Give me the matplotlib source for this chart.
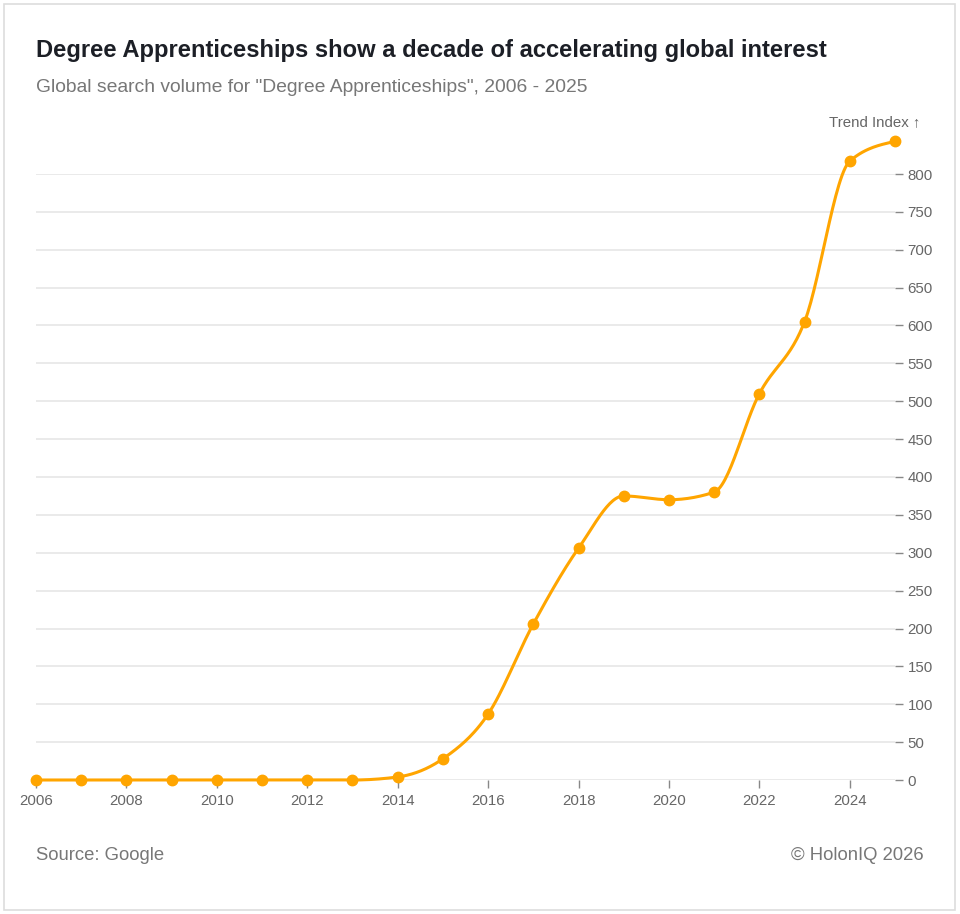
import numpy as np
import matplotlib
matplotlib.use("Agg")
import matplotlib.pyplot as plt
from matplotlib.patches import Rectangle

plt.rcParams['font.family'] = ['Liberation Sans', 'DejaVu Sans']

years = [2006, 2007, 2008, 2009, 2010, 2011, 2012, 2013, 2014, 2015,
         2016, 2017, 2018, 2019, 2020, 2021, 2022, 2023, 2024, 2025]
trend = [0, 0, 0, 0, 0, 0, 0, 0, 4, 28,
         87, 206, 306, 375, 370, 380, 510, 605, 817, 843]
x_ticks = [2006, 2008, 2010, 2012, 2014, 2016, 2018, 2020, 2022, 2024]
y_ticks = list(range(0, 801, 50))

ORANGE = '#FFA500'
GRAY = '#666666'


def monotone_x(x, y, n=30):
    # same smoothing as d3.curveMonotoneX, only used to draw the line
    x = np.asarray(x, float)
    y = np.asarray(y, float)
    h = np.diff(x)
    s = np.diff(y) / h
    t = np.zeros_like(y)
    for i in range(1, len(x) - 1):
        p = (s[i - 1] * h[i] + s[i] * h[i - 1]) / (h[i - 1] + h[i])
        t[i] = (np.sign(s[i - 1]) + np.sign(s[i])) * min(abs(s[i - 1]), abs(s[i]), 0.5 * abs(p))
    t[0] = (3 * s[0] - t[1]) / 2
    t[-1] = (3 * s[-1] - t[-2]) / 2
    xs, ys = [], []
    for i in range(len(x) - 1):
        u = np.linspace(0, 1, n)
        h00 = 2 * u**3 - 3 * u**2 + 1
        h10 = u**3 - 2 * u**2 + u
        h01 = -2 * u**3 + 3 * u**2
        h11 = u**3 - u**2
        xs.append(x[i] + u * h[i])
        ys.append(h00 * y[i] + h10 * h[i] * t[i] + h01 * y[i + 1] + h11 * h[i] * t[i + 1])
    return np.concatenate(xs), np.concatenate(ys)


fig = plt.figure(figsize=(9.6, 9.14), dpi=100)
ax = fig.add_axes([36 / 960, 134 / 914, 859 / 960, 606 / 914])

sx, sy = monotone_x(years, trend)
ax.plot(sx, sy, color=ORANGE, lw=2.2, clip_on=False, zorder=3, solid_capstyle='round')
ax.plot(years, trend, 'o', color=ORANGE, ms=7.5, clip_on=False, zorder=4)

ax.set_xlim(2006, 2025)
ax.set_ylim(0, 800)
ax.set_xticks(x_ticks)
ax.set_xticklabels([str(v) for v in x_ticks])
ax.yaxis.tick_right()
ax.set_yticks(y_ticks)
ax.set_yticklabels([str(v) for v in y_ticks])
ax.grid(axis='y', color='#e6e6e6', lw=1.2)
ax.set_axisbelow(True)
for s in ax.spines.values():
    s.set_visible(False)
ax.tick_params(axis='x', colors='#888888', labelcolor=GRAY, labelsize=10.8, length=6, width=1, pad=4)
ax.tick_params(axis='y', colors='#888888', labelcolor=GRAY, labelsize=10.8, length=6, width=1, pad=3)

fig.text(36 / 960, 1 - 51 / 914, 'Degree Apprenticeships show a decade of accelerating global interest',
         fontsize=17.1, fontweight='bold', color='#1c1f26', va='center', ha='left')
fig.text(36 / 960, 1 - 87 / 914, 'Global search volume for "Degree Apprenticeships", 2006 - 2025',
         fontsize=13.9, color='#777777', va='center', ha='left')
fig.text(920 / 960, 1 - 122 / 914, 'Trend Index \u2191', fontsize=10.8, color=GRAY, va='center', ha='right')
fig.text(36 / 960, 1 - 855 / 914, 'Source: Google', fontsize=13.3, color='#777777', va='center', ha='left')
fig.text(924 / 960, 1 - 855 / 914, '\u00a9 HolonIQ 2026', fontsize=13.3, color='#777777', va='center', ha='right')

fig.patches.append(Rectangle((4 / 960, 4 / 914), 951 / 960, 906 / 914, transform=fig.transFigure,
                             fill=False, edgecolor='#dddddd', lw=1.2))

fig.savefig('out.png', dpi=100, facecolor='white')
